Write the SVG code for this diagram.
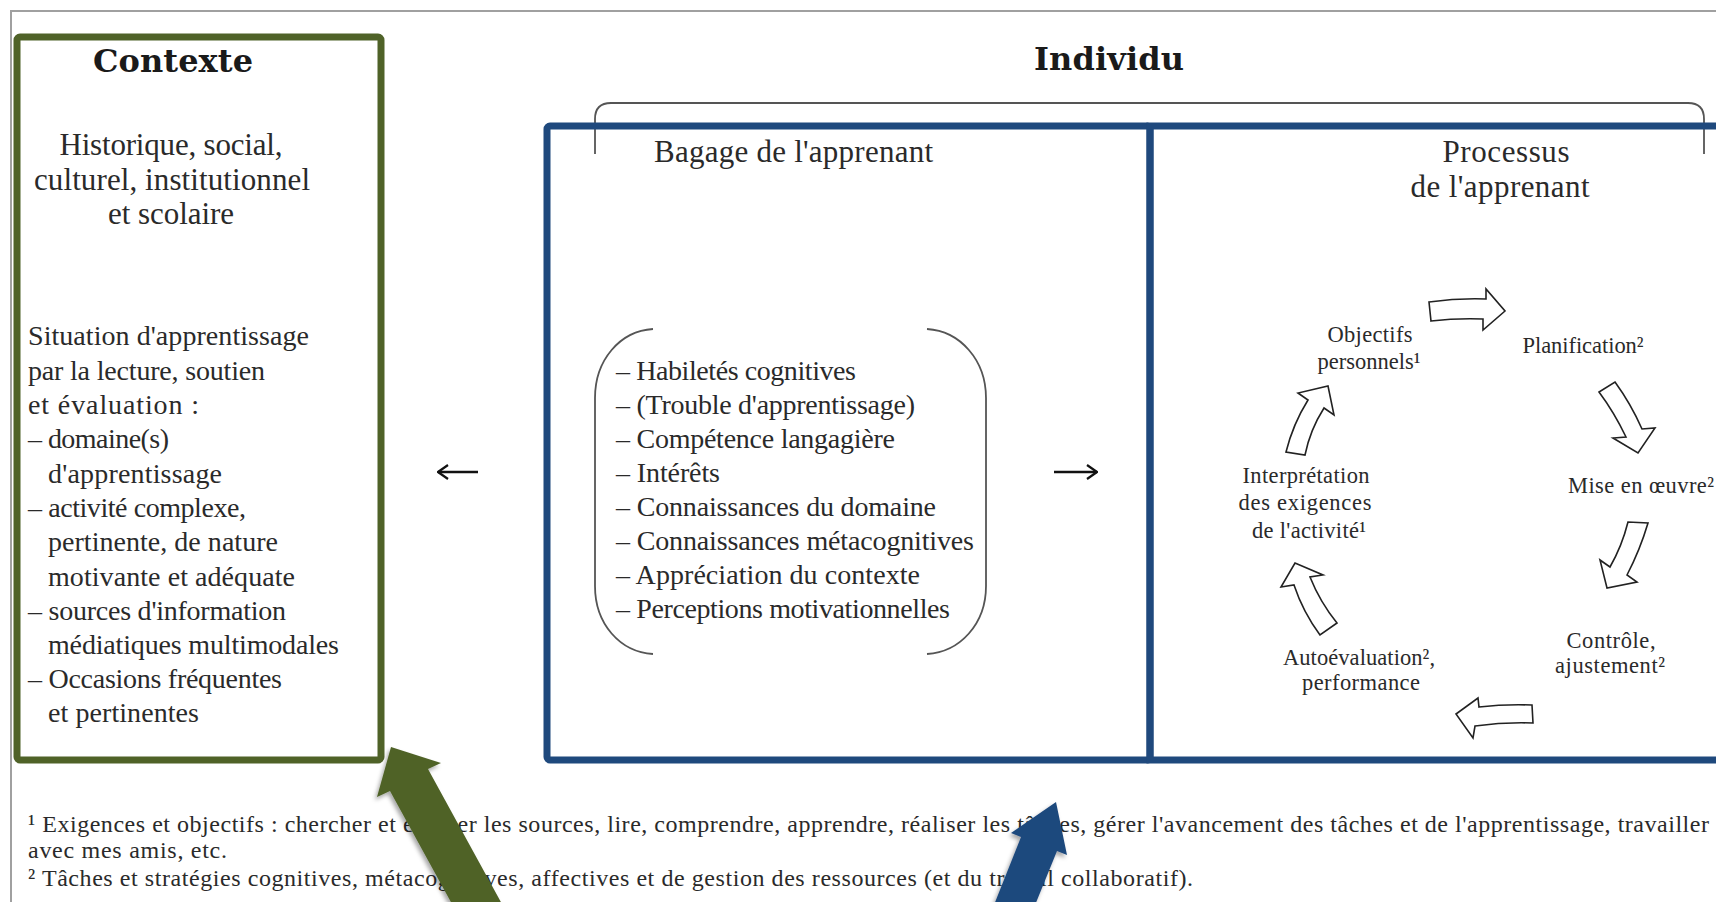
<svg xmlns="http://www.w3.org/2000/svg" width="1716" height="902" viewBox="0 0 1716 902">
<style>
.t{font-family:"Liberation Serif","DejaVu Serif",serif;fill:#2a2a2a}
.h1{font-family:"DejaVu Serif","Liberation Serif",serif;font-weight:bold;font-size:32px;fill:#1a1a1a}
.h2{font-size:31px}
.b{font-size:28px}
.s{font-size:22.5px}
.f{font-size:24px}
.blk{fill:#fff;stroke:#222;stroke-width:1.6;stroke-linejoin:miter}
.thin{fill:none;stroke:#555;stroke-width:1.8}
.ln{fill:none;stroke:#111;stroke-width:2.5}
</style>
<defs>
<marker id="chev" viewBox="0 0 12 16" refX="11" refY="8" markerWidth="12" markerHeight="16" markerUnits="userSpaceOnUse" orient="auto">
<path d="M1,1 L11,8 L1,15" fill="none" stroke="#111" stroke-width="2.2"/>
</marker>
<filter id="sh" x="-20%" y="-20%" width="140%" height="140%">
<feDropShadow dx="-2" dy="3" stdDeviation="2" flood-color="#000" flood-opacity="0.35"/>
</filter>
</defs>
<rect width="1716" height="902" fill="#fff"/>
<rect x="11" y="11" width="1730" height="920" fill="none" stroke="#a0a0a0" stroke-width="2"/>

<g id="individu-title">
<text class="h1" x="1109" y="70" text-anchor="middle" textLength="150">Individu</text>
<path class="thin" d="M595,154 L595,119 Q595,103 611,103 L1688,103 Q1704,103 1704,119 L1704,154"/>
</g>

<g id="contexte">
<rect x="17" y="37" width="364" height="723" rx="3" fill="none" stroke="#4F6228" stroke-width="7"/>
<text class="h1" x="173" y="72" text-anchor="middle" textLength="160">Contexte</text>
<g class="t h2" text-anchor="middle">
<text x="171" y="155" textLength="223">Historique, social,</text>
<text x="172" y="190" textLength="276">culturel, institutionnel</text>
<text x="171" y="224" textLength="126">et scolaire</text>
</g>
<g class="t b">
<text x="28" y="345" textLength="281">Situation d'apprentissage</text>
<text x="28" y="380" textLength="237">par la lecture, soutien</text>
<text x="28" y="414" textLength="171">et évaluation :</text>
<text x="28" y="448" textLength="141">– domaine(s)</text>
<text x="48" y="483" textLength="174">d'apprentissage</text>
<text x="28" y="517" textLength="218">– activité complexe,</text>
<text x="48" y="551" textLength="230">pertinente, de nature</text>
<text x="48" y="586" textLength="247">motivante et adéquate</text>
<text x="28" y="620" textLength="258">– sources d'information</text>
<text x="48" y="654" textLength="291">médiatiques multimodales</text>
<text x="28" y="688" textLength="254">– Occasions fréquentes</text>
<text x="48" y="722" textLength="151">et pertinentes</text>
</g>
</g>

<g id="bagage">
<rect x="547" y="126" width="603" height="634" rx="3" fill="none" stroke="#1F497D" stroke-width="7"/>
<text class="t h2" x="654" y="162" textLength="279">Bagage de l'apprenant</text>
<path class="thin" d="M653,329 C620,331 595,360 595,398 L595,586 C595,624 620,652 653,654"/>
<path class="thin" d="M927,329 C960,331 986,360 986,398 L986,586 C986,624 960,652 927,654"/>
<g class="t b">
<text x="616" y="380" textLength="240">– Habiletés cognitives</text>
<text x="616" y="414" textLength="299">– (Trouble d'apprentissage)</text>
<text x="616" y="448" textLength="279">– Compétence langagière</text>
<text x="616" y="482" textLength="104">– Intérêts</text>
<text x="616" y="516" textLength="320">– Connaissances du domaine</text>
<text x="616" y="550" textLength="358">– Connaissances métacognitives</text>
<text x="616" y="584" textLength="304">– Appréciation du contexte</text>
<text x="616" y="618" textLength="334">– Perceptions motivationnelles</text>
</g>
</g>

<g id="processus">
<rect x="1150" y="126" width="600" height="634" fill="none" stroke="#1F497D" stroke-width="7"/>
<g class="t h2" text-anchor="middle">
<text x="1506" y="162" textLength="127">Processus</text>
<text x="1500" y="197" textLength="179">de l'apprenant</text>
</g>
</g>

<g id="objectifs" class="t s" text-anchor="middle">
<text x="1370" y="342" textLength="85">Objectifs</text>
<text x="1369" y="369" textLength="103">personnels¹</text>
</g>
<g id="planification" class="t s" text-anchor="middle">
<text x="1583" y="353" textLength="121">Planification²</text>
</g>
<g id="mise-en-oeuvre" class="t s" text-anchor="middle">
<text x="1641" y="493" textLength="146">Mise en œuvre²</text>
</g>
<g id="controle" class="t s" text-anchor="middle">
<text x="1611" y="648" textLength="89">Contrôle,</text>
<text x="1610" y="673" textLength="110">ajustement²</text>
</g>
<g id="autoevaluation" class="t s" text-anchor="middle">
<text x="1359" y="665" textLength="152">Autoévaluation²,</text>
<text x="1361" y="690" textLength="118">performance</text>
</g>
<g id="interpretation" class="t s" text-anchor="middle">
<text x="1306" y="483" textLength="127">Interprétation</text>
<text x="1305" y="510" textLength="133">des exigences</text>
<text x="1309" y="538" textLength="114">de l'activité¹</text>
</g>

<g id="footnotes" class="t f">
<text x="28" y="832" textLength="1681">¹ Exigences et objectifs : chercher et évaluer les sources, lire, comprendre, apprendre, réaliser les tâches, gérer l'avancement des tâches et de l'apprentissage, travailler</text>
<text x="28" y="858" textLength="199">avec mes amis, etc.</text>
<text x="28" y="886" textLength="1165">² Tâches et stratégies cognitives, métacognitives, affectives et de gestion des ressources (et du travail collaboratif).</text>
</g>

<g id="connectors">
<path class="ln" d="M478,472 H438" marker-end="url(#chev)"/>
<path class="ln" d="M1054,472 H1097" marker-end="url(#chev)"/>
<path class="blk" d="M1429,302 Q1458,298 1486,299 L1486,289 L1505,311 L1483,330 L1483,319 Q1457,318 1431,321 Z"/>
<path class="blk" d="M1615,382 Q1631,404 1642,429 L1655,428 L1638,453 L1613,438 L1626,437 Q1614,412 1599,392 Z"/>
<path class="blk" d="M1628,522 Q1622,546 1610,567 L1600,560 L1607,588 L1637,582 L1627,575 Q1640,550 1648,523 Z"/>
<path class="blk" d="M1532,705 Q1505,704 1479,707 L1478,698 L1456,714 L1473,738 L1475,726 Q1504,722 1533,723 Z"/>
<path class="blk" d="M1320,635 Q1303,612 1294,585 L1281,587 L1295,563 L1323,575 L1310,577 Q1320,602 1337,623 Z"/>
<path class="blk" d="M1286,452 Q1293,424 1308,400 L1298,393 L1328,386 L1334,415 L1324,408 Q1310,430 1305,455 Z"/>
<polygon fill="#4F6228" filter="url(#sh)" points="391,747 441,763 428,769 508,915 458,915 390,791 377,797"/>
<polygon fill="#1F497D" filter="url(#sh)" points="1056,802 1067,855 1057,851 1031,915 990,915 1021,837 1011,833"/>
</g>
</svg>
